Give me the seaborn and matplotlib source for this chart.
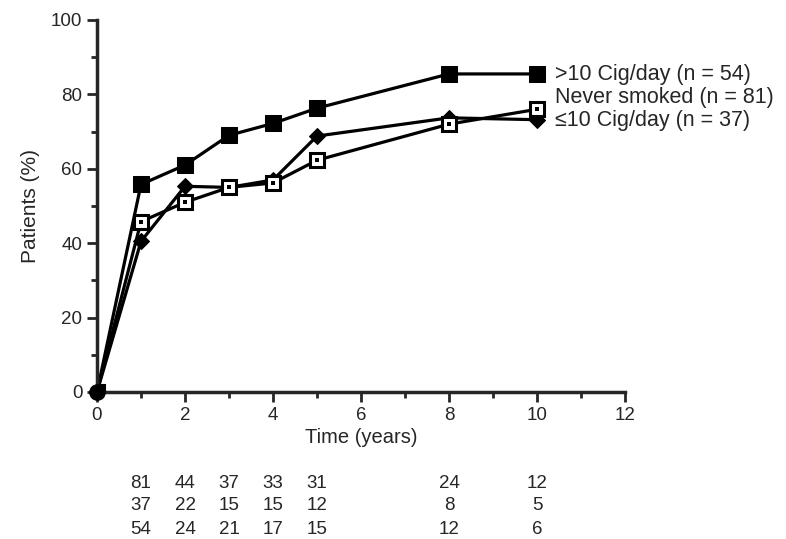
import matplotlib
matplotlib.use("Agg")
import matplotlib.pyplot as plt
import seaborn as sns
import pandas as pd
import matplotlib.transforms as mtransforms

sns.set_style("ticks")
plt.rcParams['font.family'] = ['Liberation Sans', 'DejaVu Sans']

years = [0, 1, 2, 3, 4, 5, 8, 10]
heavy = [0, 55.8, 61, 69, 72.2, 76.3, 85.5, 85.5]      # >10 Cig/day
never = [0, 45.8, 51, 55, 56.2, 62.3, 72, 76]          # Never smoked
light = [0, 40.5, 55.3, 55, 57, 68.8, 73.7, 73.2]      # <=10 Cig/day

series_labels = [">10 Cig/day (n = 54)", "Never smoked (n = 81)", "\u226410 Cig/day (n = 37)"]

risk_years = [1, 2, 3, 4, 5, 8, 10]
risk_never = [81, 44, 37, 33, 31, 24, 12]
risk_light = [37, 22, 15, 15, 12, 8, 5]
risk_heavy = [54, 24, 21, 17, 15, 12, 6]

fig = plt.figure(figsize=(7.86, 5.39), dpi=100)
ax = fig.add_axes([97/786, 147/539, 528/786, 372/539])

lw = 2.3
df_h = pd.DataFrame({"t": years, "p": heavy})
df_n = pd.DataFrame({"t": years, "p": never})
df_l = pd.DataFrame({"t": years, "p": light})

sns.lineplot(data=df_l, x="t", y="p", ax=ax, color="black", lw=lw,
             marker="D", markersize=8.5, markerfacecolor="black", markeredgecolor="black")
sns.lineplot(data=df_n, x="t", y="p", ax=ax, color="black", lw=lw,
             marker="s", markersize=10, markerfacecolor="white", markeredgecolor="black",
             markeredgewidth=2.2)
sns.scatterplot(data=df_n.iloc[1:], x="t", y="p", ax=ax, color="black", s=5,
                marker="s", linewidth=0, zorder=5)
sns.lineplot(data=df_h, x="t", y="p", ax=ax, color="black", lw=lw,
             marker="s", markersize=11, markerfacecolor="black", markeredgecolor="black")
ax.plot([0], [0], marker="o", markersize=11, color="black", clip_on=False, zorder=6)

ax.set_xlim(0, 12)
ax.set_ylim(0, 100)
ax.set_xticks(range(0, 13, 2))
ax.set_xticks(range(0, 13, 1), minor=True)
ax.set_yticks(range(0, 101, 20))
ax.set_yticks(range(0, 101, 10), minor=True)
ax.tick_params(axis="both", which="major", length=7, width=2, labelsize=13.5, direction="out")
ax.tick_params(axis="both", which="minor", length=4, width=2, direction="out")
for s in ["top", "right"]:
    ax.spines[s].set_visible(False)
for s in ["left", "bottom"]:
    ax.spines[s].set_linewidth(2.5)
ax.set_xlabel("Time (years)", fontsize=14.5, labelpad=3)
ax.set_ylabel("Patients (%)", fontsize=15, labelpad=8)

label_y = [85.3, 79.2, 73.0]
for lab, yy in zip(series_labels, label_y):
    ax.text(10.4, yy, lab, fontsize=15.5, va="center", ha="left", clip_on=False)

trans = mtransforms.blended_transform_factory(ax.transData, fig.transFigure)
row_y = [1 - 483/539, 1 - 506/539, 1 - 529/539]
for rvals, ry in zip([risk_never, risk_light, risk_heavy], row_y):
    for xv, v in zip(risk_years, rvals):
        ax.text(xv, ry, str(v), transform=trans, fontsize=13.5, ha="center", va="center")

fig.savefig("out.png", dpi=100)
